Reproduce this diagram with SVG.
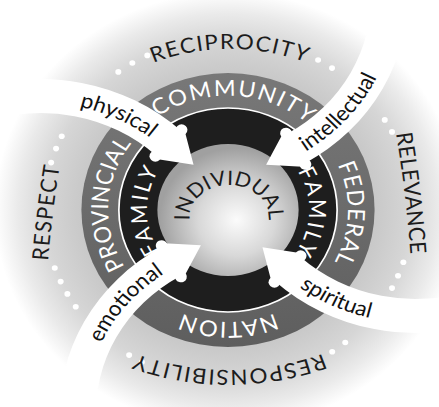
<svg xmlns="http://www.w3.org/2000/svg" xmlns:xlink="http://www.w3.org/1999/xlink" width="439" height="407" viewBox="0 0 439 407">
<style>
  text { font-family: Lato, "Open Sans", "DejaVu Sans", sans-serif; }
  .ring { font-size: 22px; fill: #ffffff; letter-spacing: 1px; }
  .comm { font-size: 22px; fill: #ffffff; letter-spacing: 1.5px; }
  .prov { font-size: 22px; fill: #ffffff; letter-spacing: 0.2px; }
  .fam { font-size: 21px; fill: #ffffff; letter-spacing: 2.5px; }
  .outer { font-size: 21px; fill: #1c1c1c; letter-spacing: 1.3px; }
  .outer.tight { letter-spacing: 0.5px; }
  .ind { font-size: 20px; fill: #1c1c1c; letter-spacing: 0px; }
  .lbl { font-size: 21px; fill: #111111; }
  .dot { fill: #ffffff; }
  .arrow { fill: #ffffff; }
</style>
<defs>
  <radialGradient id="discGrad" cx="0" cy="0" r="218" gradientUnits="userSpaceOnUse">
    <stop offset="0.6" stop-color="#c6c6c6"/>
    <stop offset="0.66" stop-color="#cbcbcb"/>
    <stop offset="0.78" stop-color="#d6d6d6"/>
    <stop offset="0.9" stop-color="#eaeaea"/>
    <stop offset="1" stop-color="#ffffff"/>
  </radialGradient>
  <linearGradient id="grayGrad" x1="0" y1="-137" x2="0" y2="137" gradientUnits="userSpaceOnUse">
    <stop offset="0" stop-color="#787878"/>
    <stop offset="1" stop-color="#5e5e5e"/>
  </linearGradient>
  <radialGradient id="innerGrad" cx="8" cy="10" r="72" gradientUnits="userSpaceOnUse">
    <stop offset="0" stop-color="#fbfbfb"/>
    <stop offset="0.5" stop-color="#d8d8d8"/>
    <stop offset="1" stop-color="#a0a0a0"/>
  </radialGradient>
  <g id="arrowShape">
    <path d="M -240.7,-115.4 A 192 192 0 0 1 -44.1,-75.4 L -41.3,-78.4 L -32.2,-41.2 L -70,-47.6 L -67.2,-50.6 A 158 158 0 0 0 -229,-83.5 Z"/>
    <circle cx="-43.4" cy="-76.2" r="5.5"/>
    <circle cx="-67.9" cy="-49.8" r="5.5"/>
  </g>
  <path id="pCommunity" d="M -111.1,-25.6 A 114 114 0 0 1 113.2,-13.9"/>
  <path id="pNation" d="M 110.3,19.4 A 112 112 0 0 1 -110.3,19.4"/>
  <path id="pProvincial" d="M -25.2,109.1 A 112 112 0 0 1 -13.6,-111.2"/>
  <path id="pFederal" d="M 23.3,-109.6 A 112 112 0 0 1 15.6,110.9"/>
  <path id="pFamilyL" d="M -13.2,74.8 A 76 76 0 0 1 -13.2,-74.8"/>
  <path id="pFamilyR" d="M 5.3,-75.8 A 76 76 0 0 1 0,76"/>
  <path id="pRecip" d="M -134.5,-104.5 A 193 193 0 0 1 138.5,-104.5"/>
  <path id="pRelev" d="M 153.1,-101.8 Q 167.5,-16.6 172.2,69.8"/>
  <path id="pRespons" d="M 122.5,127.4 A 243 243 0 0 1 -120.5,127.4"/>
  <path id="pRespect" d="M -170.1,75 Q -165.25,3 -153.4,-69"/>
  <path id="pIndividual" d="M -31,24.5 A 37 33 0 1 1 33,24.5"/>
  <path id="pPhysical" d="M -189.6,-102.4 A 168 168 0 0 1 -37.4,-31.4"/>
  <path id="pIntellectual" d="M 39.4,-25.9 A 182 182 0 0 0 116.3,-190.9"/>
  <path id="pSpiritual" d="M 25.9,39.4 A 182 182 0 0 0 190.9,116.3"/>
  <path id="pEmotional" d="M -102.4,189.6 A 168 168 0 0 1 -31.4,37.4"/>
</defs>
<rect width="439" height="407" fill="#ffffff"/>
<g transform="translate(228,210) scale(1.07,1)">
  <g id="outer-ring">
    <circle r="218" fill="url(#discGrad)"/>
    <g id="dots">
      <circle class="dot" cx="-102.5" cy="-138.1" r="2.8"/>
      <circle class="dot" cx="-89.4" cy="-147" r="2.8"/>
      <circle class="dot" cx="-75.4" cy="-154.6" r="2.8"/>
      <circle class="dot" cx="84.2" cy="-150" r="2.8"/>
      <circle class="dot" cx="97.2" cy="-141.9" r="2.8"/>
      <circle class="dot" cx="146.5" cy="-90.1" r="2.8"/>
      <circle class="dot" cx="153.3" cy="-78.1" r="2.8"/>
      <circle class="dot" cx="163.9" cy="52.3" r="2.8"/>
      <circle class="dot" cx="158.9" cy="65.8" r="2.8"/>
      <circle class="dot" cx="153.3" cy="78.1" r="2.8"/>
      <circle class="dot" cx="109.6" cy="132.5" r="2.8"/>
      <circle class="dot" cx="97.4" cy="141.7" r="2.8"/>
      <circle class="dot" cx="-80.5" cy="152" r="2.8"/>
      <circle class="dot" cx="-92.4" cy="145.1" r="2.8"/>
      <circle class="dot" cx="-142.3" cy="96.7" r="2.8"/>
      <circle class="dot" cx="-150.1" cy="83.9" r="2.8"/>
      <circle class="dot" cx="-156.4" cy="71.6" r="2.8"/>
      <circle class="dot" cx="-161.9" cy="58" r="2.8"/>
      <circle class="dot" cx="-165.3" cy="-47.4" r="2.8"/>
      <circle class="dot" cx="-160.7" cy="-61.4" r="2.8"/>
      <circle class="dot" cx="-155.4" cy="-73.8" r="2.8"/>
    </g>
    <g id="reciprocity"><text class="outer"><textPath href="#pRecip" startOffset="50%" text-anchor="middle">RECIPROCITY</textPath></text></g>
    <g id="relevance"><text class="outer tight"><textPath href="#pRelev" startOffset="50%" text-anchor="middle">RELEVANCE</textPath></text></g>
    <g id="responsibility"><text class="outer"><textPath href="#pRespons" startOffset="50%" text-anchor="middle">RESPONSIBILITY</textPath></text></g>
    <g id="respect"><text class="outer"><textPath href="#pRespect" startOffset="50%" text-anchor="middle">RESPECT</textPath></text></g>
  </g>
  <g id="government-ring">
    <circle r="137" fill="url(#grayGrad)"/>
    <g id="community"><text class="comm"><textPath href="#pCommunity" startOffset="50%" text-anchor="middle">COMMUNITY</textPath></text></g>
    <g id="federal"><text class="ring"><textPath href="#pFederal" startOffset="50%" text-anchor="middle">FEDERAL</textPath></text></g>
    <g id="nation"><text class="ring"><textPath href="#pNation" startOffset="50%" text-anchor="middle">NATION</textPath></text></g>
    <g id="provincial"><text class="prov"><textPath href="#pProvincial" startOffset="50%" text-anchor="middle">PROVINCIAL</textPath></text></g>
  </g>
  <g id="family-ring">
    <circle r="102" fill="#1e1e1e" stroke="#ffffff" stroke-width="1.6"/>
    <g id="family-left"><text class="fam"><textPath href="#pFamilyL" startOffset="50%" text-anchor="middle">FAMILY</textPath></text></g>
    <g id="family-right"><text class="fam"><textPath href="#pFamilyR" startOffset="50%" text-anchor="middle">FAMILY</textPath></text></g>
  </g>
  <g id="individual">
    <circle r="66" fill="url(#innerGrad)"/>
    <text class="ind"><textPath href="#pIndividual" startOffset="50%" text-anchor="middle">INDIVIDUAL</textPath></text>
  </g>
  <g id="connectors" transform="translate(0,-4)">
    <g id="arrow-physical">
      <use href="#arrowShape" class="arrow"/>
      <text class="lbl"><textPath href="#pPhysical" startOffset="50%" text-anchor="middle">physical</textPath></text>
    </g>
    <g id="arrow-intellectual" transform="translate(35.6,-41.2) rotate(17) translate(-41.2,32.2)">
      <use href="#arrowShape" class="arrow" transform="rotate(90)"/>
      <text class="lbl"><textPath href="#pIntellectual" startOffset="50%" text-anchor="middle">intellectual</textPath></text>
    </g>
    <g id="arrow-spiritual">
      <use href="#arrowShape" class="arrow" transform="rotate(180)"/>
      <text class="lbl"><textPath href="#pSpiritual" startOffset="50%" text-anchor="middle">spiritual</textPath></text>
    </g>
    <g id="arrow-emotional" transform="translate(-25.3,39.2) rotate(17) translate(41.2,-32.2)">
      <use href="#arrowShape" class="arrow" transform="rotate(270)"/>
      <text class="lbl"><textPath href="#pEmotional" startOffset="47%" text-anchor="middle">emotional</textPath></text>
    </g>
  </g>
</g>
</svg>
